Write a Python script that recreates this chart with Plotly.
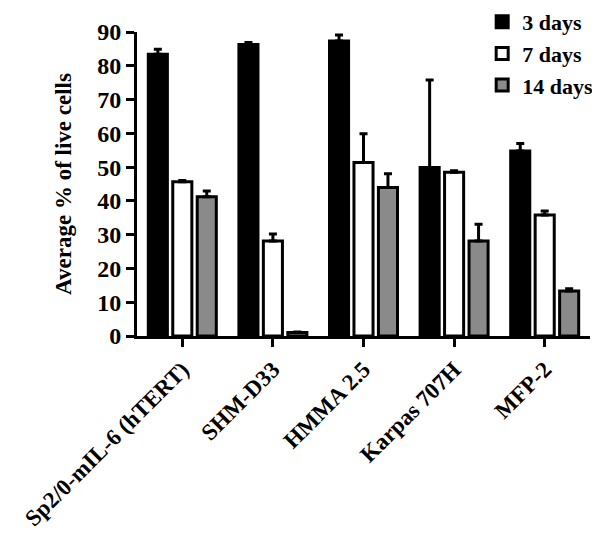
import plotly.graph_objects as go

categories = ["Sp2/0-mIL-6 (hTERT)", "SHM-D33", "HMMA 2.5", "Karpas 707H", "MFP-2"]
days3 = [83.4, 86.3, 87.3, 49.9, 54.8]
days3_err = [1.5, 0.6, 1.8, 25.9, 2.2]
days7 = [45.7, 28.1, 51.4, 48.5, 35.8]
days7_err = [0.3, 2.1, 8.5, 0.4, 1.2]
days14 = [41.2, 1.0, 44.0, 28.1, 13.3]
days14_err = [1.7, 0.2, 4.0, 5.0, 0.7]
y_ticks = [0, 10, 20, 30, 40, 50, 60, 70, 80, 90]

FONT = "Liberation Serif"

series = [
    ("3 days", days3, days3_err, "black"),
    ("7 days", days7, days7_err, "white"),
    ("14 days", days14, days14_err, "#8a8a8a"),
]

fig = go.Figure()
for name, vals, errs, col in series:
    fig.add_trace(go.Bar(
        name=name, x=categories, y=vals,
        marker=dict(color=col, line=dict(color="black", width=3)),
        error_y=dict(type="data", array=errs, arrayminus=[0]*len(errs), symmetric=False,
                     color="black", thickness=3, width=4),
    ))

fig.update_layout(
    barmode="group", bargap=0.19, bargroupgap=0.22,
    width=600, height=538,
    margin=dict(l=129, r=18, t=24, b=210, autoexpand=False),
    plot_bgcolor="white", paper_bgcolor="white",
    font=dict(family=FONT, color="black", size=22, weight="bold"),
    showlegend=True,
    legend=dict(x=0.762, xanchor="left", y=1.102, yanchor="top",
                font=dict(family=FONT, size=22, weight="bold"),
                bgcolor="rgba(0,0,0,0)", tracegroupgap=4, itemwidth=30),
)
fig.update_yaxes(
    range=[0, 90], tickvals=y_ticks, showgrid=False, zeroline=False,
    showline=True, linecolor="black", linewidth=3, automargin=False,
    ticks="outside", ticklen=8, tickwidth=3, tickcolor="black",
    tickfont=dict(family=FONT, size=24, weight="bold"),
    title=dict(text="Average % of live cells", font=dict(family=FONT, size=23, weight="bold"), standoff=20),
)
fig.update_xaxes(
    showgrid=False, showline=True, linecolor="black", linewidth=3, automargin=False,
    ticks="outside", ticklen=8, tickwidth=3, tickcolor="black",
    tickangle=-45, tickfont=dict(family=FONT, size=23, weight="bold"),
    range=[-0.5, 4.5],
)

fig.write_html("out.html")
